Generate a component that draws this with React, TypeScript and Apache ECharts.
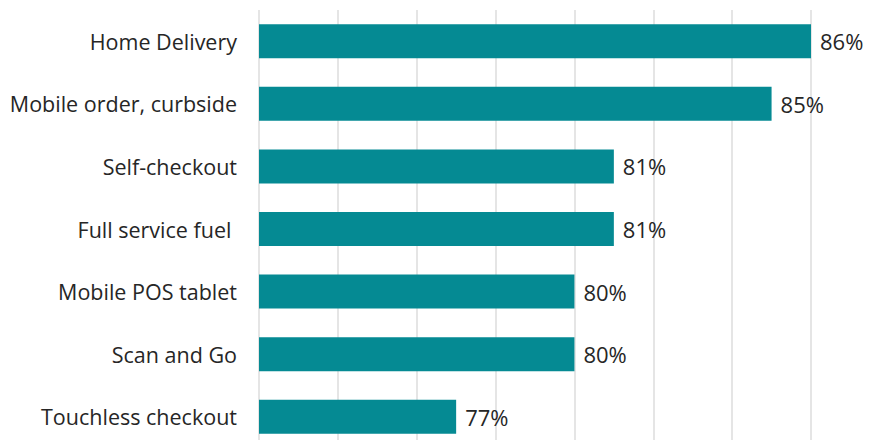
import React, { useEffect, useRef } from "react";
import * as echarts from "echarts";

const categories = [
  "Home Delivery",
  "Mobile order, curbside",
  "Self-checkout",
  "Full service fuel ",
  "Mobile POS tablet",
  "Scan and Go",
  "Touchless checkout",
];
const values = [86, 85, 81, 81, 80, 80, 77];
const axisMin = 72;
const axisMax = 86;
const axisInterval = 2;

export default function App() {
  const ref = useRef<HTMLDivElement>(null);
  useEffect(() => {
    if (!ref.current) return;
    const chart = echarts.init(ref.current, null, { renderer: "svg" });
    const font = "'Open Sans', 'Noto Sans', sans-serif";
    chart.setOption({
      animation: false,
      backgroundColor: "#ffffff",
      grid: { left: 259, right: 69, top: 10, height: 441, containLabel: false },
      xAxis: {
        type: "value",
        min: axisMin,
        max: axisMax,
        interval: axisInterval,
        axisLabel: { show: false },
        axisLine: { show: false },
        axisTick: { show: false },
        splitLine: { show: true, lineStyle: { color: "#dcdcdc", width: 1.5 } },
      },
      yAxis: {
        type: "category",
        data: categories,
        inverse: true,
        axisLine: { show: false },
        axisTick: { show: false },
        axisLabel: {
          fontFamily: font,
          fontSize: 21.5,
          color: "#262626",
          margin: 22,
        },
      },
      series: [
        {
          type: "bar",
          data: values,
          barWidth: 34,
          itemStyle: { color: "#058a93" },
          label: {
            show: true,
            position: "right",
            distance: 9,
            formatter: "{c}%",
            fontFamily: font,
            fontSize: 22,
            color: "#262626",
          },
        },
      ],
    });
    return () => chart.dispose();
  }, []);
  return <div ref={ref} style={{ width: 880, height: 448, margin: -8 }} />;
}
